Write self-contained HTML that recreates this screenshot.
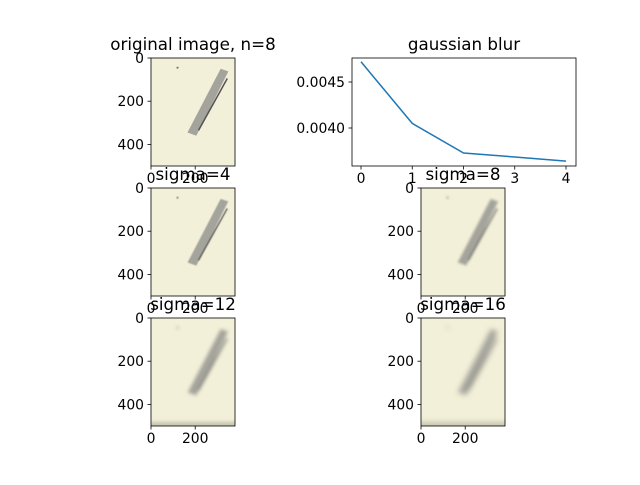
<!DOCTYPE html>
<html><head><meta charset="utf-8"><style>
body{margin:0;background:#fff}
svg text{font-family:"DejaVu Sans","Liberation Sans",sans-serif;fill:#000}
</style></head><body>
<svg id="fig" width="640" height="480" viewBox="0 0 640 480" xmlns="http://www.w3.org/2000/svg">
<defs>
<filter id="b0" x="-10%" y="-10%" width="120%" height="120%"><feGaussianBlur stdDeviation="1"/></filter>
<filter id="b4"><feGaussianBlur stdDeviation="2.5"/></filter>
<filter id="b8"><feGaussianBlur stdDeviation="6"/></filter>
<filter id="b12"><feGaussianBlur stdDeviation="9"/></filter>
<filter id="b16"><feGaussianBlur stdDeviation="12"/></filter>
</defs>
</svg>
<script>
const xs = [0, 1, 2, 3, 4];
const blurValues = [0.00472, 0.00405, 0.003728, 0.003685, 0.00364];
const yTickValues = [0.0040, 0.0045];
const yTickLabels = ["0.0040", "0.0045"];
const xTickValues = [0, 1, 2, 3, 4];
const imgTickValuesY = [0, 200, 400];
const imgTickValuesX = [0, 200];
const panels = [
  {title: "original image, n=8", x: 151, y: 58, blur: "b0", sigma: 0},
  {title: "sigma=4", x: 151, y: 188, blur: "b4", sigma: 4},
  {title: "sigma=8", x: 421, y: 188, blur: "b8", sigma: 8},
  {title: "sigma=12", x: 151, y: 318, blur: "b12", sigma: 12},
  {title: "sigma=16", x: 421, y: 318, blur: "b16", sigma: 16}
];
const NS = "http://www.w3.org/2000/svg";
const fig = document.getElementById("fig");
function el(tag, attrs, parent, txt){
  const e = document.createElementNS(NS, tag);
  for (const k in attrs) e.setAttribute(k, attrs[k]);
  if (txt !== undefined) e.textContent = txt;
  (parent || fig).appendChild(e);
  return e;
}
const L = 352, R = 576, T = 58, B = 166;
const xScale = v => 361 + v * 51.25;
const yScale = v => 128 - (v - 0.004) * 92000;
const g = el("g", {});


let d = "";
xs.forEach((x, i) => { d += (i ? "L" : "M") + xScale(x) + "," + yScale(blurValues[i]); });
const line = el("path", {d: d, fill: "none", stroke: "#1f77b4", "stroke-width": 1.5}, g);


const frame = el("rect", {x: L, y: T, width: R - L, height: B - T, fill: "none", stroke: "#000", "stroke-width": 0.8}, g);


xTickValues.forEach(v => {
  const px = xScale(v);
  el("line", {x1: px, x2: px, y1: B, y2: B + 3.5, stroke: "#000", "stroke-width": 0.8}, g);
  const t = el("text", {x: px, y: B + 17, "text-anchor": "middle", "font-size": 13.9}, g, String(v));
  
  
});
yTickValues.forEach((v, i) => {
  const py = yScale(v);
  el("line", {x1: L - 3.5, x2: L, y1: py, y2: py, stroke: "#000", "stroke-width": 0.8}, g);
  const t = el("text", {x: L - 7, y: py + 5, "text-anchor": "end", "font-size": 13.9}, g, yTickLabels[i]);
  
  
});
const ct = el("text", {x: (L + R) / 2, y: T - 8, "text-anchor": "middle", "font-size": 16.7}, g, "gaussian blur");



const W = 84, H = 108;
panels.forEach(p => {
  const pg = el("g", {});
  
  
  const s = el("svg", {x: p.x, y: p.y, width: W, height: H, viewBox: "0 0 380 500", preserveAspectRatio: "none"}, pg);
  el("rect", {x: 0, y: 0, width: 380, height: 500, fill: "#f3f0d9"}, s);
  const ig = el("g", {filter: "url(#" + p.blur + ")"}, s);
  el("rect", {x: -40, y: -40, width: 460, height: 580, fill: "#f3f0d9"}, ig);
  if (p.sigma >= 12) el("rect", {x: -40, y: 480, width: 460, height: 80, fill: "#c9c6b0"}, ig);
  el("circle", {cx: 120, cy: 45, r: 5, fill: "#777"}, ig);
  el("polygon", {points: "315,50 350,62 205,360 165,345", fill: "#a4a49c"}, ig);
  el("line", {x1: 345, y1: 95, x2: 215, y2: 335, stroke: "#555", "stroke-width": 7}, ig);
  el("rect", {x: p.x, y: p.y, width: W, height: H, fill: "none", stroke: "#000", "stroke-width": 0.8}, pg);
  imgTickValuesY.forEach(v => {
    const py = p.y + v / 500 * H;
    el("line", {x1: p.x - 3.5, x2: p.x, y1: py, y2: py, stroke: "#000", "stroke-width": 0.8}, pg);
    el("text", {x: p.x - 7, y: py + 5, "text-anchor": "end", "font-size": 13.9}, pg, String(v));
  });
  imgTickValuesX.forEach(v => {
    const px = p.x + v / 380 * W;
    el("line", {x1: px, x2: px, y1: p.y + H, y2: p.y + H + 3.5, stroke: "#000", "stroke-width": 0.8}, pg);
    el("text", {x: px, y: p.y + H + 17, "text-anchor": "middle", "font-size": 13.9}, pg, String(v));
  });
  const t = el("text", {x: p.x + W / 2, y: p.y - 8, "text-anchor": "middle", "font-size": 16.7}, pg, p.title);
  
  
});
</script>
</body></html>
